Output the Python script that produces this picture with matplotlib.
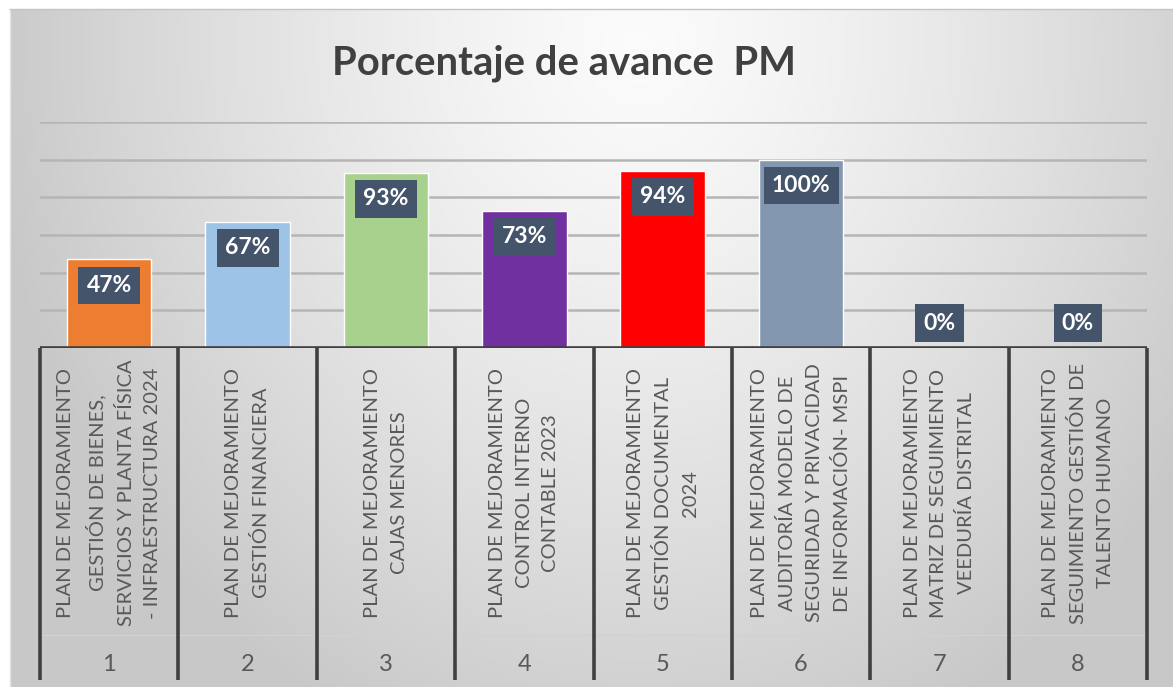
import numpy as np
import matplotlib
matplotlib.use("Agg")
import matplotlib.pyplot as plt
import matplotlib.transforms as mtransforms

plt.rcParams["font.family"] = ["Lato", "DejaVu Sans"]

# data
categories = [
    "PLAN DE MEJORAMIENTO\nGESTIÓN DE BIENES,\nSERVICIOS Y PLANTA FÍSICA\n- INFRAESTRUCTURA 2024",
    "PLAN DE MEJORAMIENTO\nGESTIÓN FINANCIERA",
    "PLAN DE MEJORAMIENTO\nCAJAS MENORES",
    "PLAN DE MEJORAMIENTO\nCONTROL INTERNO\nCONTABLE 2023",
    "PLAN DE MEJORAMIENTO\nGESTIÓN DOCUMENTAL\n2024",
    "PLAN DE MEJORAMIENTO\nAUDITORÍA MODELO DE\nSEGURIDAD Y PRIVACIDAD\nDE INFORMACIÓN- MSPI",
    "PLAN DE MEJORAMIENTO\nMATRIZ DE SEGUIMIENTO\nVEEDURÍA DISTRITAL",
    "PLAN DE MEJORAMIENTO\nSEGUIMIENTO GESTIÓN DE\nTALENTO HUMANO",
]
numbers = ["1", "2", "3", "4", "5", "6", "7", "8"]
values = [47, 67, 93, 73, 94, 100, 0, 0]
colors = ["#ED7D31", "#9DC3E6", "#A9D18E", "#7030A0", "#FF0000", "#8497B0", "#8497B0", "#8497B0"]

W, H = 1173, 687
fig = plt.figure(figsize=(W / 100, H / 100), dpi=100)
fig.patch.set_facecolor("white")

# background gradient panel
bg = fig.add_axes([10 / W, 0, 1 - 10 / W, (H - 9) / H], zorder=0)
gx, gy = np.meshgrid(np.linspace(10, W, 300), np.linspace(9, H, 200))
d = np.sqrt(((gx - 640) / 660.0) ** 2 + ((gy - 40) / 760.0) ** 2)
d = np.clip(d, 0, 1) ** 1.3
shade = 0.985 - (0.985 - 0.785) * d
bg.imshow(np.dstack([shade, shade, shade]), extent=[0, 1, 0, 1], aspect="auto", origin="upper")
bg.set_xticks([])
bg.set_yticks([])
for side in ["right", "bottom"]:
    bg.spines[side].set_visible(False)
bg.spines["top"].set_color("#c4c4c4")
bg.spines["left"].set_color("#e4e4e4")
bg.spines["top"].set_linewidth(1.0)
bg.spines["left"].set_linewidth(1.0)

# main plot
ax = fig.add_axes([40 / W, (H - 348) / H, 1107 / W, 226 / H], zorder=1)
ax.patch.set_alpha(0)
x = np.arange(len(values))
ax.set_xlim(-0.5, len(values) - 0.5)
ax.set_ylim(0, 120)
ax.set_yticks([20, 40, 60, 80, 100, 120])
ax.yaxis.grid(True, color="#b5b5b5", linewidth=1.8)
ax.set_axisbelow(True)
ax.tick_params(left=False, bottom=False, labelleft=False, labelbottom=False)
for s in ax.spines.values():
    s.set_visible(False)

ax.bar(x, values, width=0.61, color=colors, edgecolor="white", linewidth=1.0, zorder=2)
ax.axhline(0, color="#404040", linewidth=2.6, zorder=3)

for xi, v in zip(x, values):
    off = -18.7 if v > 10 else 18.0
    ax.annotate(f"{v}%", xy=(xi, v), xytext=(0, off), textcoords="offset points",
                ha="center", va="center", color="white", fontsize=16.5, fontweight="bold",
                bbox=dict(boxstyle="square,pad=0.36", fc="#44546A", ec="none"), zorder=4)

# multi-level category axis
trans = mtransforms.blended_transform_factory(ax.transData, ax.transAxes)
for xi, lab, num in zip(x, categories, numbers):
    ax.text(xi, -0.6416, lab, transform=trans, rotation=90, ha="center", va="center",
            multialignment="center", fontsize=14.5, color="#595959", linespacing=1.68)
    ax.text(xi, -1.40, num, transform=trans, ha="center", va="center", fontsize=17, color="#595959")

edges = np.arange(len(values) + 1) - 0.5
for e in edges:
    ax.plot([e, e], [0, -1.469], transform=trans, color="#404040", linewidth=2.6,
            clip_on=False, solid_capstyle="butt", zorder=3)
ax.plot([edges[0], edges[-1]], [-1.27, -1.27], transform=trans, color="#d2d2d2",
        linewidth=0.8, clip_on=False, zorder=2)

fig.text(564 / W, (H - 75) / H, "Porcentaje de avance  PM", ha="center", va="baseline",
         fontsize=28.8, fontweight="bold", color="#404040")

fig.savefig("out.png", dpi=100)
